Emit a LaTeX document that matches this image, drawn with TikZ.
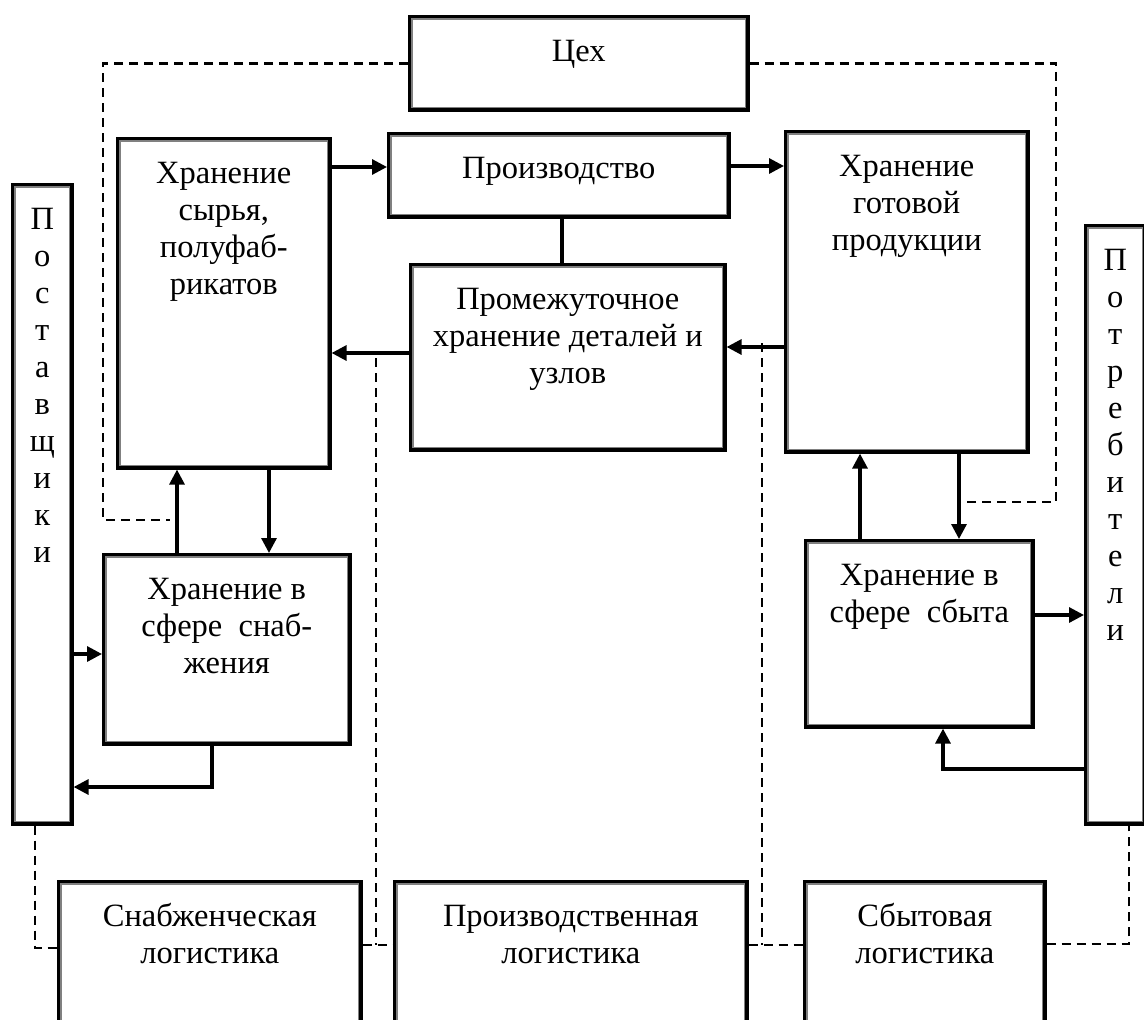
\documentclass[tikz,border=0pt]{standalone}
\usepackage{fontspec}
\setmainfont{Liberation Serif}
\usetikzlibrary{arrows.meta}

\newcommand{\boxtxt}[3]{\parbox[c][#2][t]{#1}{\centering\rule{0pt}{45pt}#3}}

\tikzset{
  blk/.style={draw=black, line width=3.6pt, inner sep=0pt, anchor=north west,
    font=\fontsize{32.5}{37}\selectfont},
  inner/.style={draw=gray, line width=1.2pt},
  arr/.style={line width=3.2pt, -{Triangle[length=15pt,width=15pt]}},
  ln/.style={line width=3.2pt},
  dsh/.style={line width=2.6pt, dash pattern=on 9pt off 6pt},
}

\begin{document}
\begin{tikzpicture}[x=1pt,y=-1pt]
	\clip (0,0) rectangle (1144,1020);

	\node[blk] (ceh) at (408,15) {\boxtxt{338pt}{93pt}{Цех}};
	\node[blk] (prod) at (387,132) {\boxtxt{340pt}{83pt}{Производство}};
	\node[blk] (syr) at (116,137) {\boxtxt{212pt}{329pt}{Хранение\\сырья,\\полуфаб-\\рикатов}};
	\node[blk] (gotov) at (784,130) {\boxtxt{242pt}{320pt}{Хранение\\готовой\\продукции}};
	\node[blk] (prom) at (409,263) {\boxtxt{314pt}{185pt}{Промежуточное\\хранение деталей и\\узлов}};
	\node[blk] (postav) at (11,183) {\boxtxt{59pt}{639pt}{П\\о\\с\\т\\а\\в\\щ\\и\\к\\и}};
	\node[blk] (potreb) at (1084,224) {\boxtxt{59pt}{598pt}{П\\о\\т\\р\\е\\б\\и\\т\\е\\л\\и}};
	\node[blk] (snab) at (102,553) {\boxtxt{246pt}{189pt}{Хранение в\\сфере~~снаб-\\жения}};
	\node[blk] (sbyt) at (804,539) {\boxtxt{227pt}{186pt}{Хранение в\\сфере~~сбыта}};
	\node[blk] (snablog) at (57,880) {\boxtxt{302pt}{160pt}{Снабженческая\\логистика}};
	\node[blk] (prodlog) at (393,880) {\boxtxt{352pt}{160pt}{Производственная\\логистика}};
	\node[blk] (sbytlog) at (803,880) {\boxtxt{240pt}{160pt}{Сбытовая\\логистика}};

	\foreach \n in {ceh,prod,syr,gotov,prom,postav,potreb,snab,sbyt,snablog,prodlog,sbytlog}
		\draw[inner] ([shift={(4pt,-4pt)}]\n.north west) rectangle ([shift={(-4pt,4pt)}]\n.south east);

	\coordinate (dl) at (170,520);
	\coordinate (dr) at (959,502);
	\coordinate (dm1) at (376,358);
	\coordinate (dm2) at (762,343);

	\draw[arr] (syr.east |- 0,167) -- (prod.west |- 0,167);
	\draw[arr] (prod.east |- 0,166) -- (gotov.west |- 0,166);
	\draw[ln] (prod.south -| 562,0) -- (prom.north -| 562,0);
	\draw[arr] (prom.west |- 0,353) -- (syr.east |- 0,353);
	\draw[arr] (gotov.west |- 0,347) -- (prom.east |- 0,347);
	\draw[arr] (snab.north -| 177,0) -- (syr.south -| 177,0);
	\draw[arr] (syr.south -| 269,0) -- (snab.north -| 269,0);
	\draw[arr] (postav.east |- 0,654) -- (snab.west |- 0,654);
	\draw[arr] (snab.south -| 212,0) |- (postav.east |- 0,787);
	\draw[arr] (sbyt.north -| 860,0) -- (gotov.south -| 860,0);
	\draw[arr] (gotov.south -| 959,0) -- (sbyt.north -| 959,0);
	\draw[arr] (sbyt.east |- 0,615) -- (potreb.west |- 0,615);
	\draw[arr] (potreb.west |- 0,769) -| (sbyt.south -| 943,0);

	\draw[dsh] (ceh.west) -| (103,520) -- (dl);
	\draw[dsh] (ceh.east) -| (1056,502) -- (dr);
	\draw[dsh] (postav.south -| 35,0) |- (snablog.west |- 0,948);
	\draw[dsh] (dm1) -- (dm1 |- 0,945);
	\draw[dsh] (snablog.east |- 0,945) -- (prodlog.west |- 0,945);
	\draw[dsh] (dm2) -- (dm2 |- 0,945);
	\draw[dsh] (prodlog.east |- 0,945) -- (sbytlog.west |- 0,945);
	\draw[dsh] (sbytlog.east |- 0,944) -| (potreb.south -| 1129,0);
\end{tikzpicture}
\end{document}
